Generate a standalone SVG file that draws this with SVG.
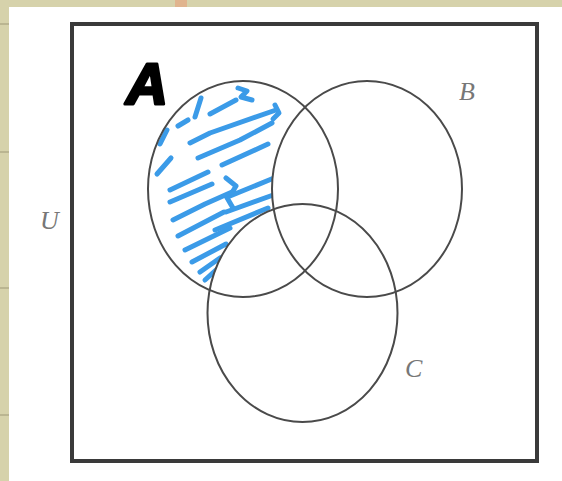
<svg xmlns="http://www.w3.org/2000/svg" width="562" height="481" viewBox="0 0 562 481">
<style>
.set{fill:none;stroke:#4a4a4a;stroke-width:2}
.lbl{font-family:"Liberation Serif",serif;font-style:italic;font-size:26px;fill:#777}
.sc{fill:none;stroke:#3b9be8;stroke-width:5;stroke-linecap:round;stroke-linejoin:round}
</style>
<defs>
<mask id="aonly">
<rect width="562" height="481" fill="black"/>
<ellipse cx="243" cy="189" rx="95" ry="108" fill="white"/>
<ellipse cx="367" cy="189" rx="95" ry="108" fill="black"/>
<ellipse cx="302.5" cy="313" rx="95" ry="109" fill="black"/>
</mask>
</defs>
<rect width="562" height="481" fill="#d6d2ab"/>
<rect x="9" y="7" width="553" height="474" fill="#ffffff"/>
<rect x="175" y="0" width="12" height="7" fill="#e0b48e"/>
<g stroke="#b0ab88" stroke-width="1.5">
<line x1="0" y1="24" x2="9" y2="24"/>
<line x1="0" y1="152" x2="9" y2="152"/>
<line x1="0" y1="288" x2="9" y2="288"/>
<line x1="0" y1="415" x2="9" y2="415"/>
</g>
<g id="universe">
<rect x="72" y="24" width="465" height="437" fill="none" stroke="#3a3a3a" stroke-width="4"/>
<text class="lbl" x="40" y="229">U</text>
</g>
<g id="scribble" mask="url(#aonly)">
<path class="sc" d="M195,117 L201,98"/>
<path class="sc" d="M238,88 L247,91 L241,97 L252,100"/>
<path class="sc" d="M210,114 L236,100"/>
<path class="sc" d="M190,143 L210,133 L276,110"/>
<path class="sc" d="M198,158 L240,140 L272,123"/>
<path class="sc" d="M275,105 L279,113 L273,119"/>
<path class="sc" d="M160,144 L167,130"/>
<path class="sc" d="M157,174 L171,158"/>
<path class="sc" d="M222,165 L268,144"/>
<path class="sc" d="M170,190 L208,172"/>
<path class="sc" d="M170,202 L212,184"/>
<path class="sc" d="M226,178 L236,186 L230,196 L274,178"/>
<path class="sc" d="M226,196 L233,208"/>
<path class="sc" d="M173,220 L205,204 L232,192"/>
<path class="sc" d="M226,212 L276,194"/>
<path class="sc" d="M178,236 L224,212"/>
<path class="sc" d="M215,230 L268,208"/>
<path class="sc" d="M185,250 L230,228"/>
<path class="sc" d="M192,262 L226,244"/>
<path class="sc" d="M200,272 L220,258"/>
<path class="sc" d="M205,280 L216,270"/>
<path class="sc" d="M178,126 L188,120"/>
</g>
<g id="setA">
<ellipse class="set" cx="243" cy="189" rx="95" ry="108"/>
<text x="126" y="104" font-family="Liberation Sans,sans-serif" font-style="italic" font-weight="bold" font-size="58" fill="#000" stroke="#000" stroke-width="3" stroke-linejoin="round" transform="translate(0,0)">A</text>
</g>
<g id="setB">
<ellipse class="set" cx="367" cy="189" rx="95" ry="108"/>
<text class="lbl" x="459" y="100">B</text>
</g>
<g id="setC">
<ellipse class="set" cx="302.5" cy="313" rx="95" ry="109"/>
<text class="lbl" x="405" y="377">C</text>
</g>
</svg>
